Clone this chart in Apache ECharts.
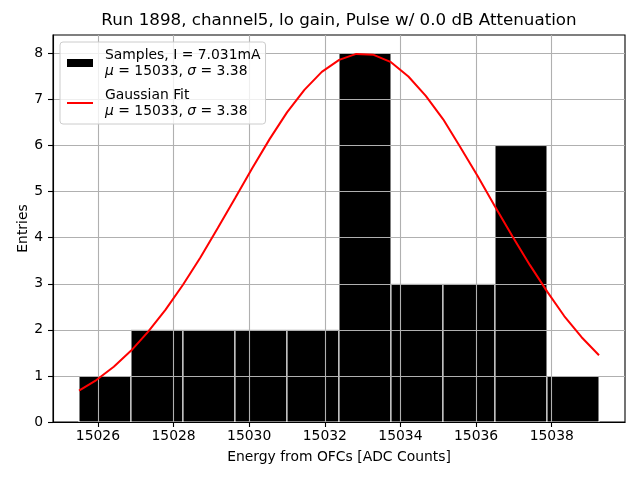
<!DOCTYPE html>
<html>
<head>
<meta charset="utf-8">
<script src="https://cdn.jsdelivr.net/npm/echarts@6/dist/echarts.min.js"></script>
<style>
  html, body { margin: 0; padding: 0; background: #ffffff; }
  #chart { width: 640px; height: 480px; }
</style>
</head>
<body>
<div id="chart"></div>
<script>
// histogram bins (edges) and entries per bin
const binEdges = [15025.5, 15026.875, 15028.25, 15029.625, 15031.0, 15032.375,
                  15033.75, 15035.125, 15036.5, 15037.875, 15039.25];
const counts = [1, 2, 2, 2, 2, 8, 3, 3, 6, 1];

// gaussian fit curve
const fitX = [15025.5, 15025.96, 15026.42, 15026.88, 15027.33, 15027.79, 15028.25, 15028.71,
              15029.17, 15029.63, 15030.08, 15030.54, 15031.0, 15031.46, 15031.92, 15032.38,
              15032.83, 15033.29, 15033.75, 15034.21, 15034.67, 15035.13, 15035.58, 15036.04,
              15036.5, 15036.96, 15037.42, 15037.88, 15038.33, 15038.79, 15039.25];
const fitY = [0.68, 0.91, 1.20, 1.55, 1.96, 2.44, 2.98, 3.57, 4.21, 4.86, 5.51, 6.14, 6.72,
              7.21, 7.60, 7.86, 7.99, 7.97, 7.81, 7.50, 7.08, 6.57, 5.97, 5.34, 4.68, 4.03,
              3.41, 2.83, 2.30, 1.84, 1.45];

const xTicks = [15026, 15028, 15030, 15032, 15034, 15036, 15038];
const yTicks = [0, 1, 2, 3, 4, 5, 6, 7, 8];

const titleText = 'Run 1898, channel5, lo gain, Pulse w/ 0.0 dB Attenuation';
const xName = 'Energy from OFCs [ADC Counts]';
const yName = 'Entries';

document.addEventListener('DOMContentLoaded', function () {
    const myChart = echarts.init(document.getElementById('chart'));
    const font = 'DejaVu Sans';

    const histData = counts.map(function (c, i) {
        return [binEdges[i], binEdges[i + 1], c];
    });
    const fitData = fitX.map(function (x, i) {
        return [x, fitY[i]];
    });

    const option = {
        animation: false,
        backgroundColor: '#ffffff',
        title: {
            text: titleText,
            left: 339,
            top: 12,
            padding: 0,
            textAlign: 'center',
            textStyle: { fontFamily: font, fontSize: 16.7, fontWeight: 'normal', color: '#000' }
        },
        grid: {
            left: 53, right: 15, top: 35, bottom: 58,
            show: true, borderColor: '#000', borderWidth: 1.1, backgroundColor: 'transparent'
        },
        legend: {
            left: 60,
            top: 42,
            orient: 'vertical',
            padding: [5, 5, 5, 7],
            itemGap: 8,
            itemWidth: 26,
            itemHeight: 8,
            backgroundColor: 'rgba(255,255,255,0.8)',
            borderColor: '#cccccc',
            borderWidth: 1,
            borderRadius: 3,
            data: [
                { name: 'Samples', icon: 'rect', itemStyle: { color: '#000' } },
                { name: 'Gaussian Fit', icon: 'path://M0,0M0,3H26V5H0ZM26,8', itemStyle: { color: '#ff0000' } }
            ],
            formatter: function (name) {
                if (name === 'Samples') {
                    return 'Samples, I = 7.031mA\n{i|μ} = 15033, {i|σ} = 3.38';
                }
                return 'Gaussian Fit\n{i|μ} = 15033, {i|σ} = 3.38';
            },
            textStyle: {
                fontFamily: font, fontSize: 13.9, color: '#000', lineHeight: 16,
                padding: [0, 0, 0, 7],
                rich: {
                    i: { fontFamily: font, fontSize: 13.9, fontStyle: 'italic', color: '#000', lineHeight: 16 }
                }
            }
        },
        xAxis: {
            type: 'value',
            min: 15024.8125,
            max: 15039.9375,
            z: 3,
            name: xName,
            nameLocation: 'middle',
            nameGap: 28,
            nameMoveOverlap: false,
            nameTextStyle: { fontFamily: font, fontSize: 13.9, color: '#000' },
            axisLine: { show: true, onZero: false, lineStyle: { color: '#000', width: 1.1 } },
            axisTick: { show: true, length: 5, lineStyle: { color: '#000', width: 1.1 }, customValues: xTicks },
            axisLabel: {
                fontFamily: font, fontSize: 13.9, color: '#000', margin: 7, customValues: xTicks,
                formatter: function (v) { return String(v); }
            },
            splitLine: { show: true, lineStyle: { color: '#b0b0b0', width: 1.1 } }
        },
        yAxis: {
            type: 'value',
            min: 0,
            max: 8.4,
            z: 3,
            name: yName,
            nameLocation: 'middle',
            nameGap: 23,
            nameMoveOverlap: false,
            nameTextStyle: { fontFamily: font, fontSize: 13.9, color: '#000' },
            axisLine: { show: true, lineStyle: { color: '#000', width: 1.1 } },
            axisTick: { show: true, length: 5, lineStyle: { color: '#000', width: 1.1 }, customValues: yTicks },
            axisLabel: { fontFamily: font, fontSize: 13.9, color: '#000', margin: 10, customValues: yTicks },
            splitLine: { show: true, lineStyle: { color: '#b0b0b0', width: 1.1 } }
        },
        series: [{
            name: 'Samples',
            type: 'custom',
            z: 1,
            itemStyle: { color: '#000' },
            encode: { x: [0, 1], y: 2 },
            data: histData,
            renderItem: function (params, api) {
                const p0 = api.coord([api.value(0), api.value(2)]);
                const p1 = api.coord([api.value(1), 0]);
                return {
                    type: 'rect',
                    shape: { x: p0[0], y: p0[1], width: p1[0] - p0[0], height: p1[1] - p0[1] },
                    style: { fill: '#000', stroke: '#ffffff', lineWidth: 1 }
                };
            }
        }, {
            name: 'Gaussian Fit',
            type: 'line',
            z: 5,
            symbol: 'none',
            showSymbol: false,
            color: '#ff0000',
            lineStyle: { color: '#ff0000', width: 2 },
            data: fitData
        }]
    };

    myChart.setOption(option);
});
</script>
</body>
</html>
